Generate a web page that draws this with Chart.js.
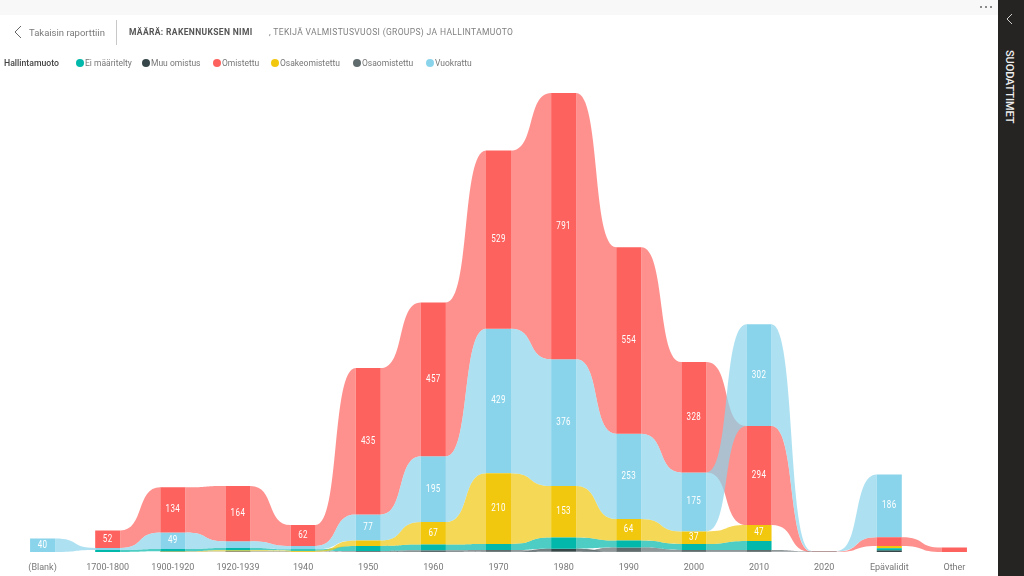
<!DOCTYPE html>
<html lang="fi">
<head>
<meta charset="utf-8">
<title>Määrä: rakennuksen nimi</title>
<script src="https://cdn.jsdelivr.net/npm/chart.js@4/dist/chart.umd.min.js"></script>
<style>
  html, body { margin: 0; padding: 0; background: #fff; overflow: hidden; }
  body { width: 1024px; height: 576px; position: relative; font-family: Roboto, sans-serif; }
  #topbar { position: absolute; left: 0; top: 0; width: 998px; height: 15px; background: #f8f8f8; }
  #dots { position: absolute; left: 979px; top: 5px; }
  #panel { position: absolute; left: 998px; top: 0; width: 26px; height: 576px; background: #252423; }
  #panel svg { position: absolute; left: 8px; top: 13px; }
  #panel span { position: absolute; left: 2px; top: 50px; writing-mode: vertical-rl; color: #f0f0f0; font-size: 11px; font-weight: 500; line-height: 18px; letter-spacing: -0.1px; white-space: nowrap; }
  #back { position: absolute; left: 29px; top: 26px; font-size: 9.5px; line-height: 13px; color: #7a7a7a; white-space: nowrap; }
  #backIcon { position: absolute; left: 13px; top: 25px; }
  #divider { position: absolute; left: 116px; top: 20px; width: 1px; height: 25px; background: #c8c8c8; }
  #title, #subtitle { position: absolute; top: 26px; font-size: 8.5px; line-height: 13px; letter-spacing: 0.35px; white-space: nowrap; }
  #title { left: 129px; font-weight: 700; color: #555; }
  #subtitle { left: 269px; font-weight: 400; color: #808080; }
  #legendTitle { position: absolute; left: 4px; top: 57px; font-size: 8.7px; line-height: 13px; font-weight: 500; color: #444; white-space: nowrap; }
  .legendItem { position: absolute; top: 57px; font-size: 8.5px; line-height: 13px; color: #777; white-space: nowrap; }
  .legendItem i { display: inline-block; width: 8px; height: 8px; border-radius: 50%; margin-right: 1px; vertical-align: -1px; }
  #chartBox { position: absolute; left: 0; top: 0; width: 998px; height: 576px; }
</style>
</head>
<body>
<div id="topbar"></div>
<svg id="dots" width="14" height="4"><circle cx="2" cy="2" r="1" fill="#666"/><circle cx="7" cy="2" r="1" fill="#666"/><circle cx="12" cy="2" r="1" fill="#666"/></svg>
<div id="chartBox"><canvas id="chart"></canvas></div>
<svg id="backIcon" width="10" height="14"><path d="M8 1 L2 7 L8 13" fill="none" stroke="#666" stroke-width="1"/></svg>
<div id="back">Takaisin raporttiin</div>
<div id="divider"></div>
<div id="title">MÄÄRÄ: RAKENNUKSEN NIMI</div>
<div id="subtitle">, TEKIJÄ VALMISTUSVUOSI (GROUPS) JA HALLINTAMUOTO</div>
<div id="legendTitle">Hallintamuoto</div>
<div id="legend"></div>
<div id="panel">
  <svg width="8" height="12"><path d="M6 1 L1 6 L6 11" fill="none" stroke="#d0d0d0" stroke-width="1"/></svg>
  <span>SUODATTIMET</span>
</div>

<script>
const categories = ["(Blank)", "1700-1800", "1900-1920", "1920-1939", "1940", "1950", "1960", "1970", "1980", "1990", "2000", "2010", "2020", "Epävalidit", "Other"];

const seriesNames = ["Ei määritelty", "Muu omistus", "Omistettu", "Osakeomistettu", "Osaomistettu", "Vuokrattu"];
const seriesColors = ["#01B8AA", "#374649", "#FD625E", "#F2C80F", "#5F6B6D", "#8AD4EB"];

const eiMaaritelty = [null, 6, 7, 7, 4, 15, 17, 18, 33, 21, 18, 27, null, 6, null];
const muuOmistus = [null, null, 1, 1, null, 1, 2, 1, 8, 1, 1, 1, null, 5, null];
const omistettu = [null, 52, 134, 164, 62, 435, 457, 529, 791, 554, 328, 294, 1, 26, 13];
const osakeomistettu = [null, null, 1, 3, 3, 16, 67, 210, 153, 64, 37, 47, null, 7, null];
const osaomistettu = [null, null, null, 1, 1, 2, 3, 5, 2, 12, 5, 5, 1, null, null];
const vuokrattu = [40, 6, 49, 20, 10, 77, 195, 429, 376, 253, 175, 302, 1, 186, null];

const seriesValues = [eiMaaritelty, muuOmistus, omistettu, osakeomistettu, osaomistettu, vuokrattu];

const legendLeft = [76, 142, 213, 271, 353, 426];
const LABEL_MIN = 37; // smaller segments get no value label
const RIBBON_PULL = 0.62; // bezier handle length as a share of the gap, gives the steep middle

// html legend, the title sits left of the items so the built-in one does not fit
const legendEl = document.getElementById("legend");
seriesNames.forEach((name, i) => {
  const item = document.createElement("div");
  item.className = "legendItem";
  item.style.left = legendLeft[i] + "px";
  item.innerHTML = `<i style="background:${seriesColors[i]}"></i>${name}`;
  legendEl.appendChild(item);
});

// ribbon stacks are re-sorted per category: smallest at the bottom
function stackRanges(values) {
  const ranges = values.map(() => []);
  categories.forEach((_, c) => {
    const order = values
      .map((v, s) => ({ v: v[c], s }))
      .filter((d) => d.v !== null)
      .sort((a, b) => a.v - b.v || a.s - b.s);
    let base = 0;
    const byIndex = {};
    for (const d of order) {
      byIndex[d.s] = [base, base + d.v];
      base += d.v;
    }
    values.forEach((_, s) => ranges[s].push(byIndex[s] || null));
  });
  return ranges;
}

const ranges = stackRanges(seriesValues);

function hexToRgba(hex, alpha) {
  const n = parseInt(hex.slice(1), 16);
  return `rgba(${n >> 16}, ${(n >> 8) & 255}, ${n & 255}, ${alpha})`;
}

const ribbonPlugin = {
  id: "ribbons",
  beforeDatasetsDraw(chart) {
    const ctx = chart.ctx;
    chart.data.datasets.forEach((ds, s) => {
      const bars = chart.getDatasetMeta(s).data;
      ctx.fillStyle = hexToRgba(seriesColors[s], 0.7);
      for (let c = 0; c < bars.length - 1; c++) {
        if (!ds.data[c] || !ds.data[c + 1]) continue;
        const a = bars[c].getProps(["x", "y", "base", "width"]);
        const b = bars[c + 1].getProps(["x", "y", "base", "width"]);
        const x0 = a.x + a.width / 2;
        const x1 = b.x - b.width / 2;
        const pull = (x1 - x0) * RIBBON_PULL;
        ctx.beginPath();
        ctx.moveTo(x0, a.y);
        ctx.bezierCurveTo(x0 + pull, a.y, x1 - pull, b.y, x1, b.y);
        ctx.lineTo(x1, b.base);
        ctx.bezierCurveTo(x1 - pull, b.base, x0 + pull, a.base, x0, a.base);
        ctx.closePath();
        ctx.fill();
      }
    });
  },
};

const valueLabelPlugin = {
  id: "valueLabels",
  afterDatasetsDraw(chart) {
    const ctx = chart.ctx;
    ctx.save();
    ctx.font = "400 10px Roboto";
    ctx.letterSpacing = "0.5px";
    ctx.fillStyle = "#fff";
    ctx.textAlign = "center";
    ctx.textBaseline = "middle";
    chart.data.datasets.forEach((ds, s) => {
      chart.getDatasetMeta(s).data.forEach((bar, c) => {
        const value = seriesValues[s][c];
        if (value === null || value < LABEL_MIN) return;
        const { x, y, base } = bar.getProps(["x", "y", "base"]);
        // squeeze a little, the original font is narrower than Roboto
        ctx.save();
        ctx.translate(x, (y + base) / 2);
        ctx.scale(0.8, 1);
        ctx.fillText(String(value), 0, 0);
        ctx.restore();
      });
    });
    ctx.restore();
  },
};

new Chart(document.getElementById("chart"), {
  type: "bar",
  data: {
    labels: categories,
    datasets: seriesNames.map((name, s) => ({
      label: name,
      data: ranges[s],
      backgroundColor: seriesColors[s],
      borderWidth: 0,
      borderSkipped: false,
      grouped: false,
      barPercentage: 0.384,
      categoryPercentage: 1,
    })),
  },
  options: {
    responsive: true,
    maintainAspectRatio: false,
    animation: false,
    layout: { padding: { left: 10, right: 11, top: 80.5, bottom: 0 } },
    plugins: {
      legend: { display: false },
      tooltip: { enabled: false },
    },
    scales: {
      x: {
        afterFit: (scale) => { scale.height = 24; },
        grid: { display: false },
        border: { display: false },
        ticks: {
          color: "#777",
          font: { family: "Roboto", size: 9 },
          padding: 2,
          maxRotation: 0,
          autoSkip: false,
        },
      },
      y: {
        display: false,
        min: 0,
        max: 1400,
      },
    },
  },
  plugins: [ribbonPlugin, valueLabelPlugin],
});
</script>
</body>
</html>
